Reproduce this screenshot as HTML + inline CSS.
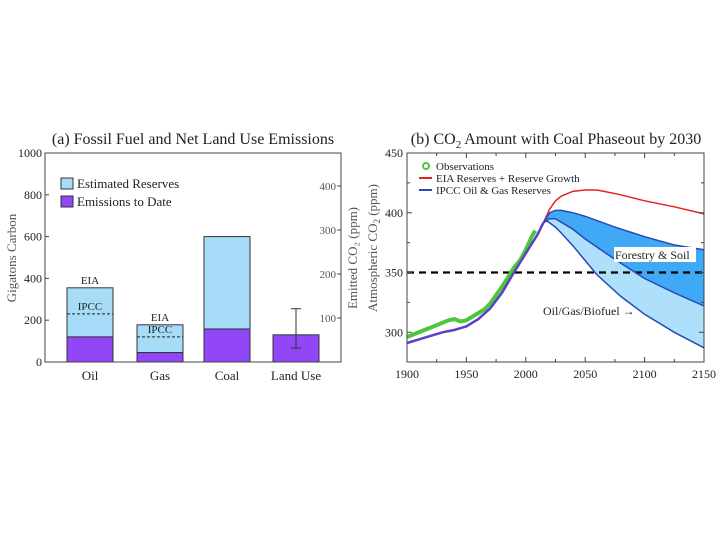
<!DOCTYPE html>
<html><head><meta charset="utf-8"><style>
body{margin:0;background:#fff;width:720px;height:540px;overflow:hidden}
svg{font-family:"Liberation Serif",serif}
</style></head><body>
<svg id="c" width="720" height="540" viewBox="0 0 720 540"></svg>
<script>
// ---- Panel (a) data ----
const categories=["Oil","Gas","Coal","Land Use"];
const totals=[355,178,600,130];
const emissions=[120,45,158,130];
const ipcc=[230,120,null,null];
const landErrLow=67, landErrHigh=255;
const leftTicks=[0,200,400,600,800,1000];
const rightTicks=[100,200,300,400];
// ---- Panel (b) data ----
const obsYears=[1900,1905,1910,1915,1920,1925,1930,1935,1940,1945,1950,1955,1960,1965,1970,1975,1980,1985,1990,1995,2000,2005,2008];
const obsVals=[296,298,300,302,304,306,308,310,311,309,310,313,316,319,324,331,338,346,354,360,369,380,385];
const modYears=[1900,1910,1920,1930,1940,1950,1960,1970,1980,1990,2000,2010,2015];
const modVals=[291,294,297,300,302,305,311,320,333,350,366,382,392];
const redYears=[2015,2020,2025,2030,2040,2050,2060,2070,2080,2100,2125,2150];
const redVals=[392,403,410,414,418,419,419,417,415,410,405,399];
const upYears=[2015,2020,2025,2030,2040,2050,2075,2100,2125,2150];
const upVals=[392,400,402,402,400,397,388,380,373,369];
const midYears=[2015,2020,2025,2030,2040,2050,2075,2100,2125,2150];
const midVals=[392,395,395,392,386,378,361,345,333,322];
const lowYears=[2015,2018,2025,2030,2040,2050,2060,2080,2100,2125,2150];
const lowVals=[392,393,388,383,372,360,348,330,315,300,287];
const xTicksB=[1900,1950,2000,2050,2100,2150];
const yTicksB=[300,350,400,450];

const NS="http://www.w3.org/2000/svg";
const svg=document.getElementById('c');
function el(t,a,p){const e=document.createElementNS(NS,t);for(const k in a)e.setAttribute(k,a[k]);(p||svg).appendChild(e);return e;}
function txt(x,y,s,a){const e=el('text',Object.assign({x:x,y:y,'font-size':13,fill:'#222'},a||{}));e.textContent=s;return e;}

// ---------- Panel (a) ----------
const aL=45,aR=341,aT=153,aB=362;
const ya=v=>aB-(v/1000)*(aB-aT);
const yr=v=>aB-v*0.44;
const barX=[67,137,204,273], barW=46;
let t=txt(193,144,"(a)  Fossil Fuel and Net Land Use Emissions",{'text-anchor':'middle','font-size':16});

categories.forEach((c,i)=>{
  const x=barX[i];
  if(totals[i]>emissions[i]){
    const r=el('rect',{x:x,y:ya(totals[i]),width:barW,height:ya(emissions[i])-ya(totals[i]),fill:'#a6dcf7',stroke:'#333','stroke-width':1});
    
    
  }
  const r2=el('rect',{x:x,y:ya(emissions[i]),width:barW,height:aB-ya(emissions[i]),fill:'#9146f7',stroke:'#333','stroke-width':1});
  
  
  if(ipcc[i]!=null){
    const l=el('line',{x1:x,x2:x+barW,y1:ya(ipcc[i]),y2:ya(ipcc[i]),stroke:'#222','stroke-dasharray':'3,2'});
    
    const a=txt(x+barW/2,ya(ipcc[i])-4,'IPCC',{'text-anchor':'middle','font-size':11});
    
    const b=txt(x+barW/2,ya(totals[i])-4,'EIA',{'text-anchor':'middle','font-size':11});
    
  }
  const cl=txt(x+barW/2,380,c,{'text-anchor':'middle','font-size':13});
  
});
// error bar
const ex=296;
el('line',{x1:ex,x2:ex,y1:ya(landErrHigh),y2:ya(landErrLow),stroke:'#333'});
el('line',{x1:ex-5,x2:ex+5,y1:ya(landErrHigh),y2:ya(landErrHigh),stroke:'#333'});
el('line',{x1:ex-5,x2:ex+5,y1:ya(landErrLow),y2:ya(landErrLow),stroke:'#333'});
// frame
let f=el('rect',{x:aL,y:aT,width:aR-aL,height:aB-aT,fill:'none',stroke:'#444','stroke-width':1});

leftTicks.forEach(v=>{el('line',{x1:aL,x2:aL+4,y1:ya(v),y2:ya(v),stroke:'#444'});
  const k=txt(aL-3,ya(v)+4,String(v),{'text-anchor':'end','font-size':12});});
rightTicks.forEach(v=>{el('line',{x1:aR-4,x2:aR,y1:yr(v),y2:yr(v),stroke:'#444'});
  const k=txt(aR-5,yr(v)+4,String(v),{'text-anchor':'end','font-size':11,fill:'#555'});});
t=txt(0,0,"Gigatons Carbon",{transform:'translate(16,258) rotate(-90)','text-anchor':'middle','font-size':13,fill:'#555'});

t=txt(0,0,"Emitted CO₂ (ppm)",{transform:'translate(357,258) rotate(-90)','text-anchor':'middle','font-size':13,fill:'#555'});

let lg=el('rect',{x:61,y:178,width:12,height:11,fill:'#a6dcf7',stroke:'#333'});
t=txt(77,188,"Estimated Reserves",{'font-size':13});
lg=el('rect',{x:61,y:196,width:12,height:11,fill:'#9146f7',stroke:'#333'});
t=txt(77,206,"Emissions to Date",{'font-size':13});

// ---------- Panel (b) ----------
const bL=407,bR=704,bT=153,bB=362;
const xb=y=>bL+(y-1900)*(bR-bL)/250;
const yb=v=>bT+(450-v)*1.195;
const pts=(xs,vs)=>xs.map((x,i)=>xb(x).toFixed(1)+','+yb(vs[i]).toFixed(1));
t=el('text',{x:556,y:144,'font-size':16,fill:'#222','text-anchor':'middle'});
t.innerHTML='(b)  CO<tspan dy="4" font-size="11">2</tspan><tspan dy="-4"> Amount with Coal Phaseout by 2030</tspan>';

// fills
let p=el('polygon',{points:pts(upYears,upVals).concat(pts(midYears,midVals).reverse()).join(' '),fill:'#3fa9f5'});

p=el('polygon',{points:pts(midYears,midVals).concat(pts(lowYears,lowVals).reverse()).join(' '),fill:'#aee0fb'});

// dashed 350
let d=el('line',{x1:bL,x2:bR,y1:yb(350),y2:yb(350),stroke:'#000','stroke-width':2.2,'stroke-dasharray':'7,5'});

// observations
p=el('polyline',{points:pts(obsYears,obsVals).join(' '),fill:'none',stroke:'#4cc63a','stroke-width':4});

p=el('polyline',{points:pts(modYears,modVals).join(' '),fill:'none',stroke:'#5a3fc8','stroke-width':2.5});

p=el('polyline',{points:pts(redYears,redVals).join(' '),fill:'none',stroke:'#e52222','stroke-width':1.5});

[[upYears,upVals,'ipcc-upper-line'],[midYears,midVals,'ipcc-middle-line'],[lowYears,lowVals,'ipcc-lower-line']].forEach(s=>{
  const q=el('polyline',{points:pts(s[0],s[1]).join(' '),fill:'none',stroke:'#2a48b8','stroke-width':1.5});
  
});
f=el('rect',{x:bL,y:bT,width:bR-bL,height:bB-bT,fill:'none',stroke:'#444'});

xTicksB.forEach(v=>{el('line',{x1:xb(v),x2:xb(v),y1:bB,y2:bB-5,stroke:'#444'});el('line',{x1:xb(v),x2:xb(v),y1:bT,y2:bT+5,stroke:'#444'});
  const k=txt(xb(v),378,String(v),{'text-anchor':'middle','font-size':12});});
[1925,1975,2025,2075,2125].forEach(v=>{el('line',{x1:xb(v),x2:xb(v),y1:bB,y2:bB-3,stroke:'#444'});el('line',{x1:xb(v),x2:xb(v),y1:bT,y2:bT+3,stroke:'#444'});});
yTicksB.forEach(v=>{el('line',{x1:bL,x2:bL+5,y1:yb(v),y2:yb(v),stroke:'#444'});el('line',{x1:bR-5,x2:bR,y1:yb(v),y2:yb(v),stroke:'#444'});
  const k=txt(bL-4,yb(v)+4,String(v),{'text-anchor':'end','font-size':12});});
[325,375,425].forEach(v=>{el('line',{x1:bL,x2:bL+3,y1:yb(v),y2:yb(v),stroke:'#444'});el('line',{x1:bR-3,x2:bR,y1:yb(v),y2:yb(v),stroke:'#444'});});
t=el('text',{transform:'translate(377,248) rotate(-90)','text-anchor':'middle','font-size':13,fill:'#555'});
t.innerHTML='Atmospheric CO<tspan dy="3" font-size="9">2</tspan><tspan dy="-3"> (ppm)</tspan>';

// legend
el('circle',{cx:426,cy:166,r:3,fill:'none',stroke:'#4cc63a','stroke-width':2});
t=txt(436,170,"Observations",{'font-size':11});
el('line',{x1:419,x2:432,y1:178,y2:178,stroke:'#e52222','stroke-width':2});
t=txt(436,182,"EIA Reserves + Reserve Growth",{'font-size':11});
el('line',{x1:419,x2:432,y1:190,y2:190,stroke:'#2a48b8','stroke-width':2});
t=txt(436,194,"IPCC Oil & Gas Reserves",{'font-size':11});
el('rect',{x:614,y:247,width:82,height:15,fill:'#fff'});
t=txt(615,259,"Forestry & Soil",{'font-size':12});
t=txt(543,315,"Oil/Gas/Biofuel →",{'font-size':12});
</script>
</body></html>
